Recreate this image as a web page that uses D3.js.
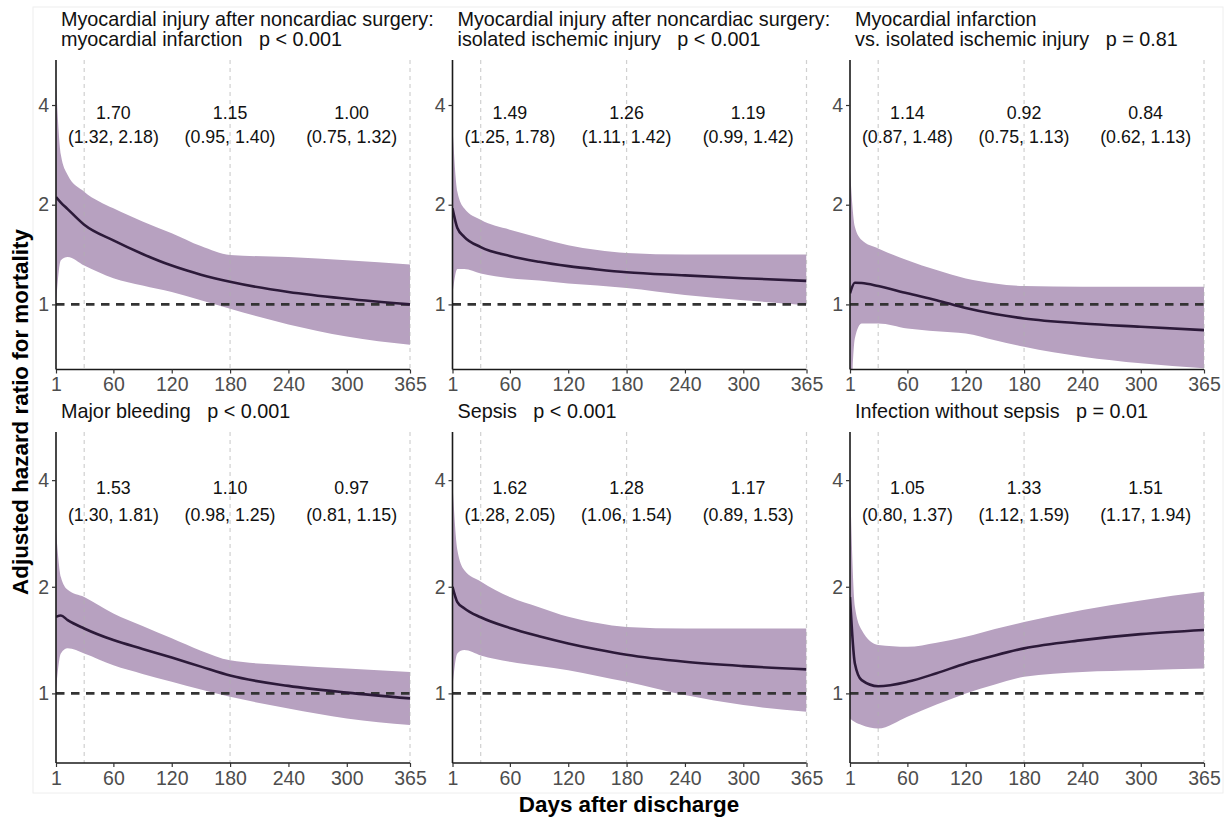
<!DOCTYPE html>
<html>
<head>
<meta charset="utf-8">
<script src="https://cdn.jsdelivr.net/npm/d3@7"></script>
<style>
  body { margin: 0; background: #fff; }
  svg text { font-family: "Liberation Sans", Arial, Helvetica, sans-serif; }
</style>
</head>
<body>
<svg id="chart" width="1228" height="820"></svg>
<script>
var days = [1, 6, 13, 30, 60, 90, 120, 150, 180, 240, 300, 365];

var titles = [
  ['Myocardial injury after noncardiac surgery:', 'myocardial infarction   p < 0.001'],
  ['Myocardial injury after noncardiac surgery:', 'isolated ischemic injury   p < 0.001'],
  ['Myocardial infarction', 'vs. isolated ischemic injury   p = 0.81'],
  ['Major bleeding   p < 0.001'],
  ['Sepsis   p < 0.001'],
  ['Infection without sepsis   p = 0.01']
];

var estimates = [
  [2.11, 2.03, 1.94, 1.74, 1.56, 1.42, 1.31, 1.23, 1.17, 1.09, 1.04, 1.00],
  [1.95, 1.70, 1.60, 1.49, 1.40, 1.345, 1.305, 1.275, 1.25, 1.224, 1.200, 1.178],
  [1.08, 1.162, 1.16, 1.136, 1.08, 1.03, 0.975, 0.935, 0.907, 0.876, 0.856, 0.836],
  [1.645, 1.66, 1.61, 1.525, 1.414, 1.335, 1.262, 1.19, 1.123, 1.05, 1.005, 0.968],
  [2.0, 1.81, 1.74, 1.64, 1.53, 1.45, 1.384, 1.33, 1.285, 1.228, 1.194, 1.169],
  [1.87, 1.215, 1.09, 1.048, 1.078, 1.14, 1.215, 1.28, 1.34, 1.414, 1.47, 1.51]
];

var upper = [
  [4.65, 2.83, 2.46, 2.19, 1.95, 1.78, 1.64, 1.50, 1.41, 1.39, 1.36, 1.32],
  [3.44, 2.19, 1.95, 1.80, 1.68, 1.59, 1.51, 1.46, 1.43, 1.415, 1.415, 1.415],
  [2.55, 1.716, 1.565, 1.476, 1.36, 1.27, 1.198, 1.157, 1.136, 1.13, 1.13, 1.13],
  [2.89, 2.13, 1.96, 1.87, 1.68, 1.55, 1.43, 1.32, 1.24, 1.20, 1.176, 1.15],
  [3.91, 2.54, 2.23, 2.07, 1.87, 1.75, 1.645, 1.58, 1.54, 1.525, 1.525, 1.525],
  [4.0, 1.76, 1.51, 1.37, 1.354, 1.39, 1.445, 1.52, 1.59, 1.72, 1.83, 1.935]
];

var lower = [
  [1.0, 1.36, 1.39, 1.31, 1.20, 1.14, 1.09, 1.03, 0.97, 0.87, 0.80, 0.755],
  [1.08, 1.28, 1.28, 1.24, 1.20, 1.18, 1.157, 1.14, 1.12, 1.067, 1.03, 0.995],
  [0.40, 0.79, 0.876, 0.876, 0.846, 0.83, 0.817, 0.78, 0.745, 0.695, 0.664, 0.641],
  [1.02, 1.297, 1.34, 1.297, 1.2, 1.135, 1.078, 1.025, 0.978, 0.907, 0.85, 0.814],
  [1.04, 1.297, 1.325, 1.28, 1.228, 1.195, 1.163, 1.12, 1.078, 0.989, 0.927, 0.887],
  [0.85, 0.83, 0.814, 0.796, 0.859, 0.93, 1.0, 1.06, 1.114, 1.15, 1.163, 1.176]
];

// period estimates shown over days 1-30, 31-180, 181-365
var labelDays = [60, 180, 305];
var periodHR = [
  ['1.70', '1.15', '1.00'],
  ['1.49', '1.26', '1.19'],
  ['1.14', '0.92', '0.84'],
  ['1.53', '1.10', '0.97'],
  ['1.62', '1.28', '1.17'],
  ['1.05', '1.33', '1.51']
];
var periodCI = [
  ['(1.32, 2.18)', '(0.95, 1.40)', '(0.75, 1.32)'],
  ['(1.25, 1.78)', '(1.11, 1.42)', '(0.99, 1.42)'],
  ['(0.87, 1.48)', '(0.75, 1.13)', '(0.62, 1.13)'],
  ['(1.30, 1.81)', '(0.98, 1.25)', '(0.81, 1.15)'],
  ['(1.28, 2.05)', '(1.06, 1.54)', '(0.89, 1.53)'],
  ['(0.80, 1.37)', '(1.12, 1.59)', '(1.17, 1.94)']
];

var xTicks = [1, 60, 120, 180, 240, 300, 365];
var yTicks = [1, 2, 4];
var refDays = [30, 180, 365];

var colX = [56, 452.5, 850];
var panelW = 354;
var rows = [{ top: 60, bottom: 369.5, titleY: 26 }, { top: 432, bottom: 763, titleY: 418 }];

var svg = d3.select('#chart');

svg.append('rect')
  .attr('x', 33).attr('y', 7).attr('width', 1190).attr('height', 786)
  .attr('fill', 'none').attr('stroke', '#eeeeee').attr('stroke-width', 1);

titles.forEach(function(title, i) {
  var row = rows[Math.floor(i / 3)];
  var x0 = colX[i % 3];

  var x = d3.scaleLinear().domain([1, 365]).range([x0, x0 + panelW]);
  var y = d3.scaleLog().domain([0.636, 5.47]).range([row.bottom, row.top]);

  var g = svg.append('g').classed('panel', true);

  var clipId = 'clip' + i;
  g.append('clipPath').attr('id', clipId)
    .append('rect')
    .attr('x', x0).attr('y', row.top)
    .attr('width', panelW).attr('height', row.bottom - row.top);

  var pts = days.map(function(d, j) {
    return { day: d, est: estimates[i][j], lo: lower[i][j], hi: upper[i][j] };
  });

  var area = d3.area()
    .x(function(d) { return x(d.day); })
    .y0(function(d) { return y(d.lo); })
    .y1(function(d) { return y(d.hi); })
    .curve(d3.curveMonotoneX);

  var line = d3.line()
    .x(function(d) { return x(d.day); })
    .y(function(d) { return y(d.est); })
    .curve(d3.curveMonotoneX);

  g.append('path')
    .datum(pts)
    .attr('clip-path', 'url(#' + clipId + ')')
    .attr('d', area)
    .attr('fill', '#b7a1c0');

  g.selectAll('line.ref')
    .data(refDays)
    .enter().append('line')
    .classed('ref', true)
    .attr('x1', function(d) { return x(d); })
    .attr('x2', function(d) { return x(d); })
    .attr('y1', row.top).attr('y2', row.bottom)
    .attr('stroke', '#b0b0b0').attr('stroke-opacity', 0.6)
    .attr('stroke-width', 1.2).attr('stroke-dasharray', '4,4');

  g.append('line')
    .attr('x1', x(1)).attr('x2', x(365))
    .attr('y1', y(1)).attr('y2', y(1))
    .attr('stroke', '#333333').attr('stroke-width', 2.6)
    .attr('stroke-dasharray', '8.5,6.5');

  g.append('path')
    .datum(pts)
    .attr('clip-path', 'url(#' + clipId + ')')
    .attr('d', line)
    .attr('fill', 'none')
    .attr('stroke', '#2c1a39')
    .attr('stroke-width', 2.6);

  // axes
  var xAxis = g.append('g')
    .attr('transform', 'translate(0,' + row.bottom + ')')
    .call(d3.axisBottom(x).tickValues(xTicks).tickSize(4).tickPadding(4).tickSizeOuter(0));
  var yAxis = g.append('g')
    .attr('transform', 'translate(' + x0 + ',0)')
    .call(d3.axisLeft(y).tickValues(yTicks).tickFormat(d3.format('d')).tickSize(4).tickPadding(3).tickSizeOuter(0));

  [xAxis, yAxis].forEach(function(ax) {
    ax.select('.domain').attr('stroke', '#1a1a1a').attr('stroke-width', 1.6);
    ax.selectAll('.tick line').attr('stroke', '#333333').attr('stroke-width', 1.2);
    ax.selectAll('.tick text')
      .attr('fill', '#4d4d4d')
      .style('font-size', '19.5px')
      .style('font-family', '"Liberation Sans", Arial, sans-serif');
  });
  yAxis.select('.domain').attr('d', 'M0,' + row.bottom + 'V' + row.top);
  xAxis.select('.domain').attr('d', 'M' + x0 + ',0H' + (x0 + panelW));

  // period estimates
  labelDays.forEach(function(d, k) {
    g.append('text')
      .attr('x', x(d)).attr('y', y(3.8))
      .attr('text-anchor', 'middle').attr('dy', '0.35em')
      .style('font-size', '17.8px').attr('fill', '#111')
      .text(periodHR[i][k]);
    g.append('text')
      .attr('x', x(d)).attr('y', y(3.2))
      .attr('text-anchor', 'middle').attr('dy', '0.35em')
      .style('font-size', '17.8px').attr('fill', '#111')
      .text(periodCI[i][k]);
  });

  // panel title
  title.forEach(function(t, k) {
    g.append('text')
      .attr('x', x0 + 5).attr('y', row.titleY + k * 20)
      .style('font-size', '19.8px').style('white-space', 'pre')
      .attr('fill', '#111')
      .text(t);
  });
});

svg.append('text')
  .attr('transform', 'translate(28,412) rotate(-90)')
  .attr('text-anchor', 'middle')
  .style('font-size', '22.4px').style('font-weight', 'bold')
  .attr('fill', '#000')
  .text('Adjusted hazard ratio for mortality');

svg.append('text')
  .attr('x', 629).attr('y', 812)
  .attr('text-anchor', 'middle')
  .style('font-size', '22.4px').style('font-weight', 'bold')
  .attr('fill', '#000')
  .text('Days after discharge');
</script>
</body>
</html>
